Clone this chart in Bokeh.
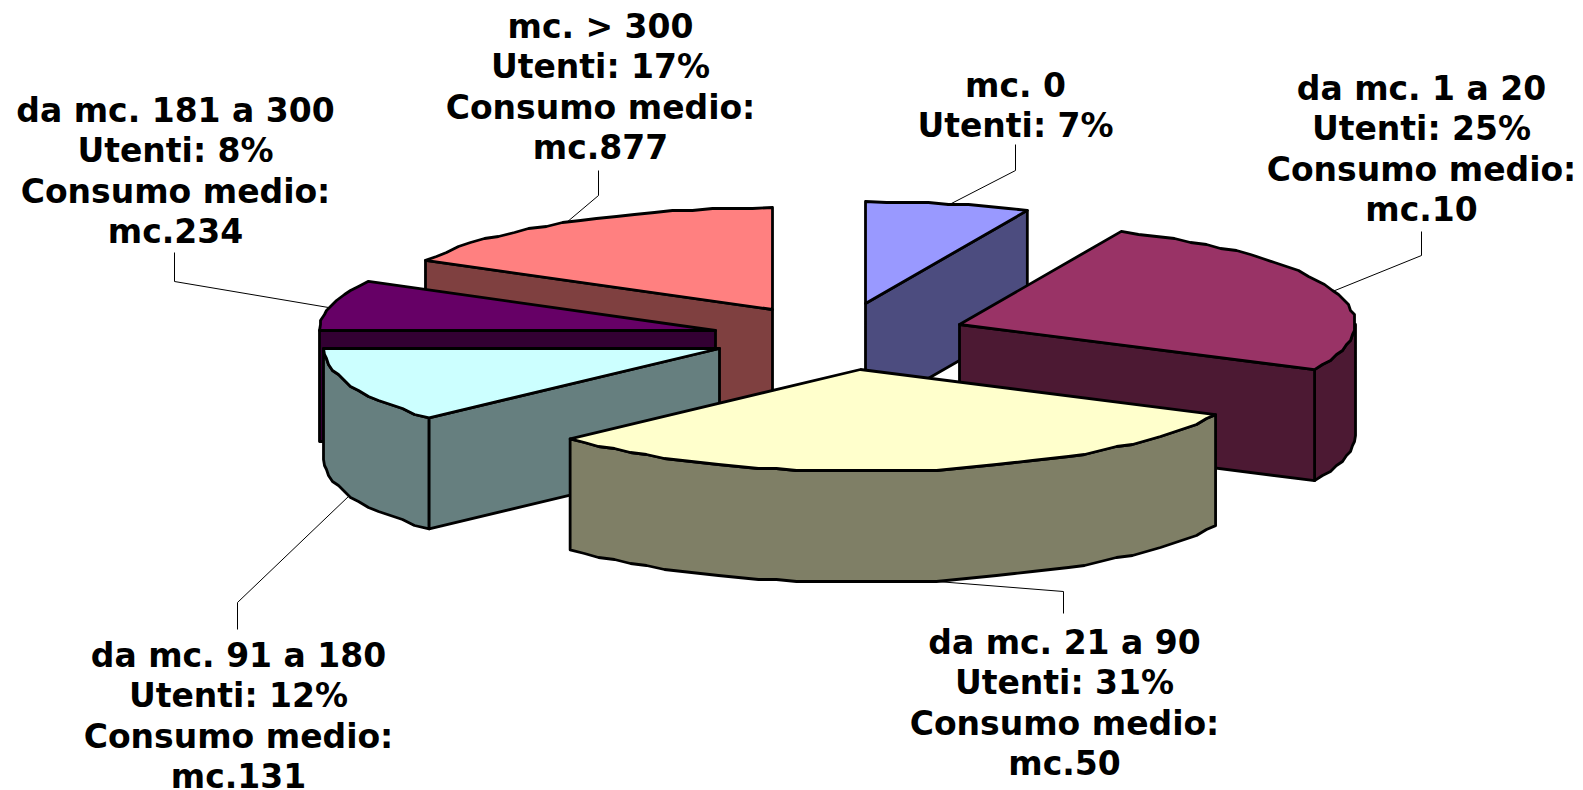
import math
from bokeh.plotting import figure
from bokeh.models import ColumnDataSource, Range1d
from bokeh.core.properties import value
from bokeh.embed import file_html
from bokeh.resources import INLINE

# ---- data ----
categories = ["mc. 0", "da mc. 1 a 20", "da mc. 21 a 90", "da mc. 91 a 180", "da mc. 181 a 300", "mc. > 300"]
utenti = [7, 25, 31, 12, 8, 17]
slice_share = [6.7, 25.6, 30.8, 11.9, 8.0, 17.0]  # unrounded shares
consumo = [None, 10, 50, 131, 234, 877]

# ---- style / layout ----
top_colors = ["#9999FF", "#993366", "#FFFFCC", "#CCFFFF", "#660066", "#FF8080"]
wall_colors = ["#4C4C7F", "#4C1933", "#7F7F66", "#667F7F", "#330033", "#7F4040"]
draw_order = [0, 5, 1, 4, 3, 2]
RX, RY, DEPTH = 396, 102, 111
CX, CY = 840, 336
EXPLODE_DX = [25, 119, 20, -121, -125, -68]
EXPLODE_DY = [-33, -12, 33, 12, -6, -27]
label_x = [1015, 1421, 1064, 238, 175, 600]
label_y0 = [85, 88, 642, 655, 110, 26]
LINE_H = 40.4
leader_x = [[1015, 1015, 947], [1421, 1421, 1332], [1063, 1063, 924], [237, 237, 349], [174, 174, 328], [598, 598, 566]]
leader_y = [[144, 170, 205], [231, 255, 291], [613, 591, 580], [629, 602, 495], [252, 281, 307], [170, 195, 222]]
GRID = 2
SEG = 20

W, H = 1583, 790
p = figure(width=W, height=H, output_backend="svg", toolbar_location=None,
           x_range=Range1d(0, W), y_range=Range1d(H, 0),
           min_border=0, outline_line_color=None)
p.axis.visible = False
p.grid.visible = False
p.background_fill_color = "white"
p.border_fill_color = "white"

total = sum(slice_share)
starts, acc = [], 0
for u in slice_share:
    starts.append(acc / total * 2 * math.pi)
    acc += u


def snap(v):
    return round(v / GRID) * GRID


def arc(cx, cy, a0, a1):
    n = max(2, int((a1 - a0) * SEG))
    angs = [a0 + (a1 - a0) * k / n for k in range(n + 1)]
    xs, ys = [], []
    for k, t in enumerate(angs):
        x, y = cx + RX * math.sin(t), cy - RY * math.cos(t)
        if 0 < k < n:
            x, y = snap(x), snap(y)
        xs.append(x)
        ys.append(y)
    return xs, ys


def poly(xs, ys, color):
    p.patch(xs, ys, fill_color=color, line_color="black", line_width=2.8, line_join="round")


HALF = math.pi / 2
for i in draw_order:
    a0 = starts[i]
    a1 = a0 + slice_share[i] / total * 2 * math.pi
    cx = CX + EXPLODE_DX[i]
    cy = CY + EXPLODE_DY[i]
    xs, ys = arc(cx, cy, a0, a1)
    # front part of the outer wall
    f0, f1 = max(a0, HALF), min(a1, 3 * HALF)
    if f1 > f0:
        fx, fy = arc(cx, cy, f0, f1)
        poly(fx + fx[::-1], fy + [y + DEPTH for y in fy[::-1]], wall_colors[i])
    # radial walls that face the viewer
    if math.pi < a0 < 2 * math.pi:
        ex, ey = cx + RX * math.sin(a0), cy - RY * math.cos(a0)
        poly([cx, ex, ex, cx], [cy, ey, ey + DEPTH, cy + DEPTH], wall_colors[i])
    if 0 < a1 < math.pi:
        ex, ey = cx + RX * math.sin(a1), cy - RY * math.cos(a1)
        poly([cx, ex, ex, cx], [cy, ey, ey + DEPTH, cy + DEPTH], wall_colors[i])
    # top
    poly([cx] + xs, [cy] + ys, top_colors[i])

for lx, ly in zip(leader_x, leader_y):
    p.line(lx, ly, line_color="black", line_width=1)

rows = dict(x=[], y=[], t=[])
for i, c in enumerate(categories):
    lines = [c, f"Utenti: {utenti[i]}%"]
    if consumo[i] is not None:
        lines += ["Consumo medio:", f"mc.{consumo[i]}"]
    for k, t in enumerate(lines):
        rows["x"].append(label_x[i])
        rows["y"].append(label_y0[i] + k * LINE_H)
        rows["t"].append(t)
p.text("x", "y", "t", source=ColumnDataSource(rows), text_font=value("DejaVu Sans"),
       text_font_style="bold", text_font_size="33px", text_color="black",
       text_align="center", text_baseline="middle")

open("out.html", "w").write(file_html(p, INLINE))
